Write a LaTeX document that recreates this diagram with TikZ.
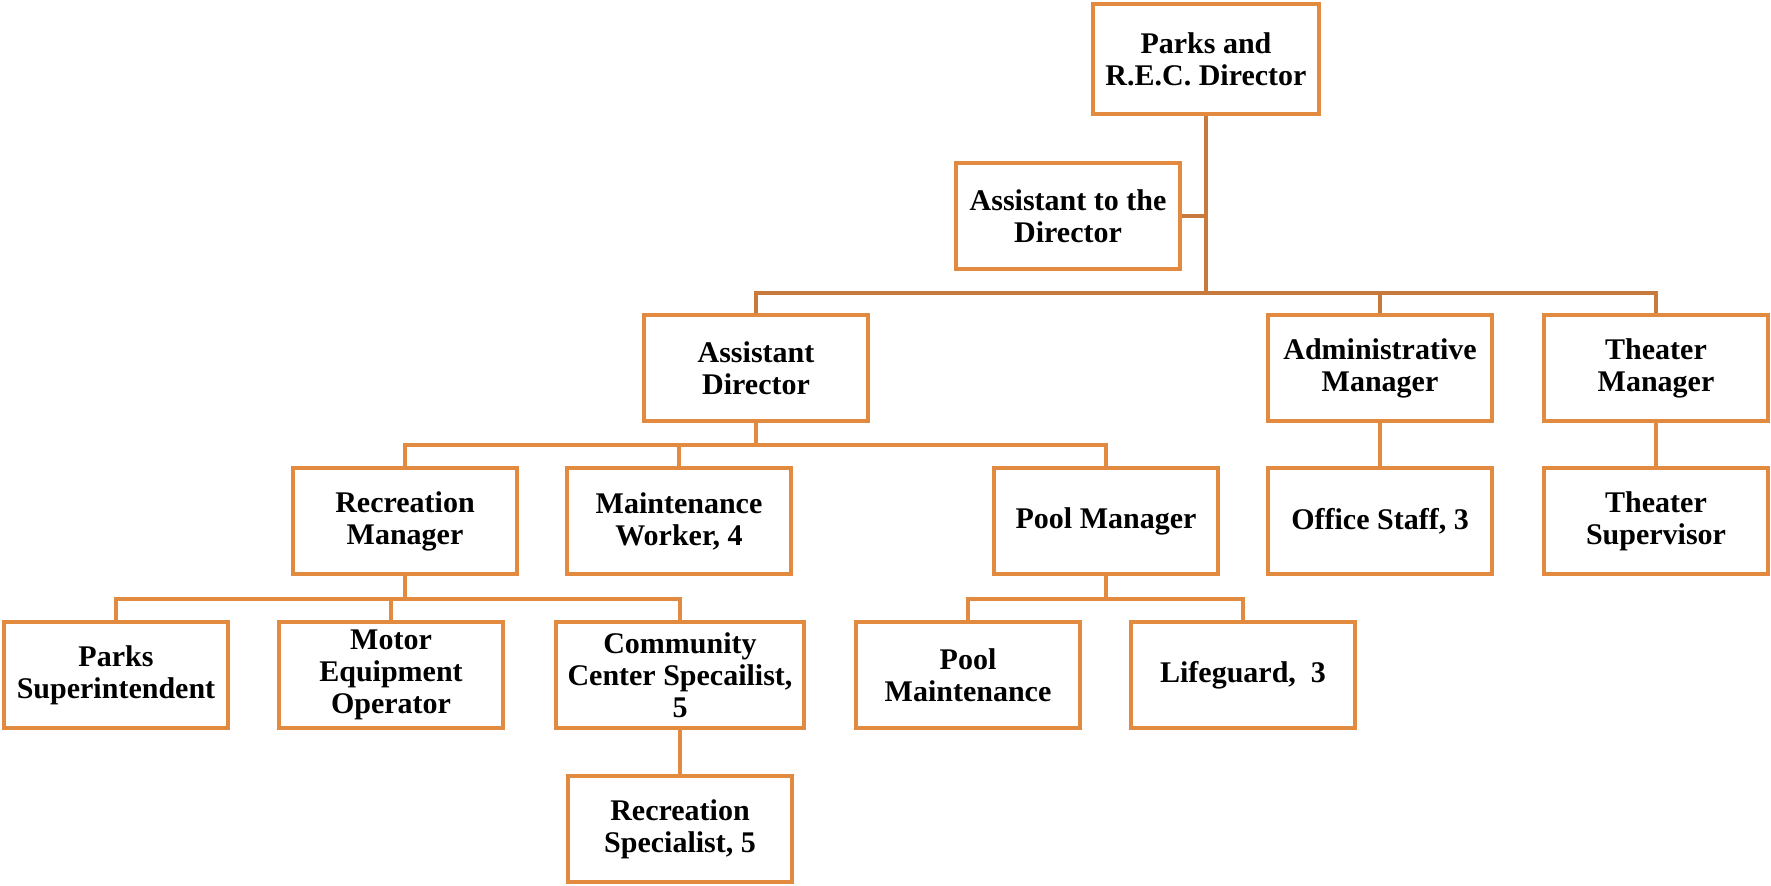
\documentclass[tikz,border=0pt]{standalone}
\usepackage{fontspec}
\setmainfont{Liberation Serif}
\usepackage{tikz}
\usetikzlibrary{calc}
\definecolor{boxorange}{RGB}{226,138,64}
\definecolor{trunkorange}{RGB}{200,122,60}
\tikzset{
	post/.style={draw=boxorange, line width=2pt, fill=white, minimum width=112pt, minimum height=53pt, inner sep=1pt, align=center, font=\fontsize{15}{16}\selectfont\bfseries},
	link/.style={draw=boxorange, line width=2pt},
	toplink/.style={draw=trunkorange, line width=2pt}
}

\begin{document}
\begin{tikzpicture}[x=0.5pt, y=-0.5pt]
			%%%%% START %%%%%
			
			\useasboundingbox (0, 0) rectangle (1771, 885);
			
			\coordinate (busA) at (0, 293);
			\coordinate (busB) at (0, 445);
			\coordinate (busC) at (0, 599);
			
			\node[post, minimum width=113pt, minimum height=55pt] (dir) at (1206, 59) {Parks and\\R.E.C. Director};
			\node[post] (atd) at (1068, 216) {Assistant to the\\Director};
			
			\node[post] (ad) at (756, 368) {Assistant\\Director};
			\node[post] (am) at (1380, 368) {Administrative\\Manager};
			\node[post] (tm) at (1656, 368) {Theater\\Manager};
			
			\node[post] (rm) at (405, 521) {Recreation\\Manager};
			\node[post] (mw) at (679, 521) {Maintenance\\Worker, 4};
			\node[post] (pm) at (1106, 521) {Pool Manager};
			\node[post] (os) at (1380, 521) {Office Staff, 3};
			\node[post] (ts) at (1656, 521) {Theater\\Supervisor};
			
			\node[post] (ps) at (116, 675) {Parks\\Superintendent};
			\node[post] (me) at (391, 675) {Motor\\Equipment\\Operator};
			\node[post, minimum width=124pt] (cc) at (680, 675) {Community\\Center Specailist,\\5};
			\node[post] (pmt) at (968, 675) {Pool\\Maintenance};
			\node[post] (lg) at (1243, 675) {Lifeguard,~~3};
			
			\node[post] (rs) at (680, 829) {Recreation\\Specialist, 5};
			
			% director
			\draw[toplink] (dir.south) -- (dir.south |- busA) -| (ad.north);
			\draw[toplink] (dir.south |- busA) -| (am.north);
			\draw[toplink] (dir.south |- busA) -| (tm.north);
			\draw[toplink] (atd.east) -- (atd.east -| dir.south);
			
			% assistant director
			\draw[link] (ad.south) -- (ad.south |- busB) -| (rm.north);
			\draw[link] (ad.south |- busB) -| (mw.north);
			\draw[link] (ad.south |- busB) -| (pm.north);
			
			\draw[link] (am.south) -- (os.north);
			\draw[link] (tm.south) -- (ts.north);
			
			% recreation and pool
			\draw[link] (rm.south) -- (rm.south |- busC) -| (ps.north);
			\draw[link] (rm.south |- busC) -| (me.north);
			\draw[link] (rm.south |- busC) -| (cc.north);
			\draw[link] (pm.south) -- (pm.south |- busC) -| (pmt.north);
			\draw[link] (pm.south |- busC) -| (lg.north);
			
			\draw[link] (cc.south) -- (rs.north);
			
			%%%%% END %%%%%
		\end{tikzpicture}
\end{document}
